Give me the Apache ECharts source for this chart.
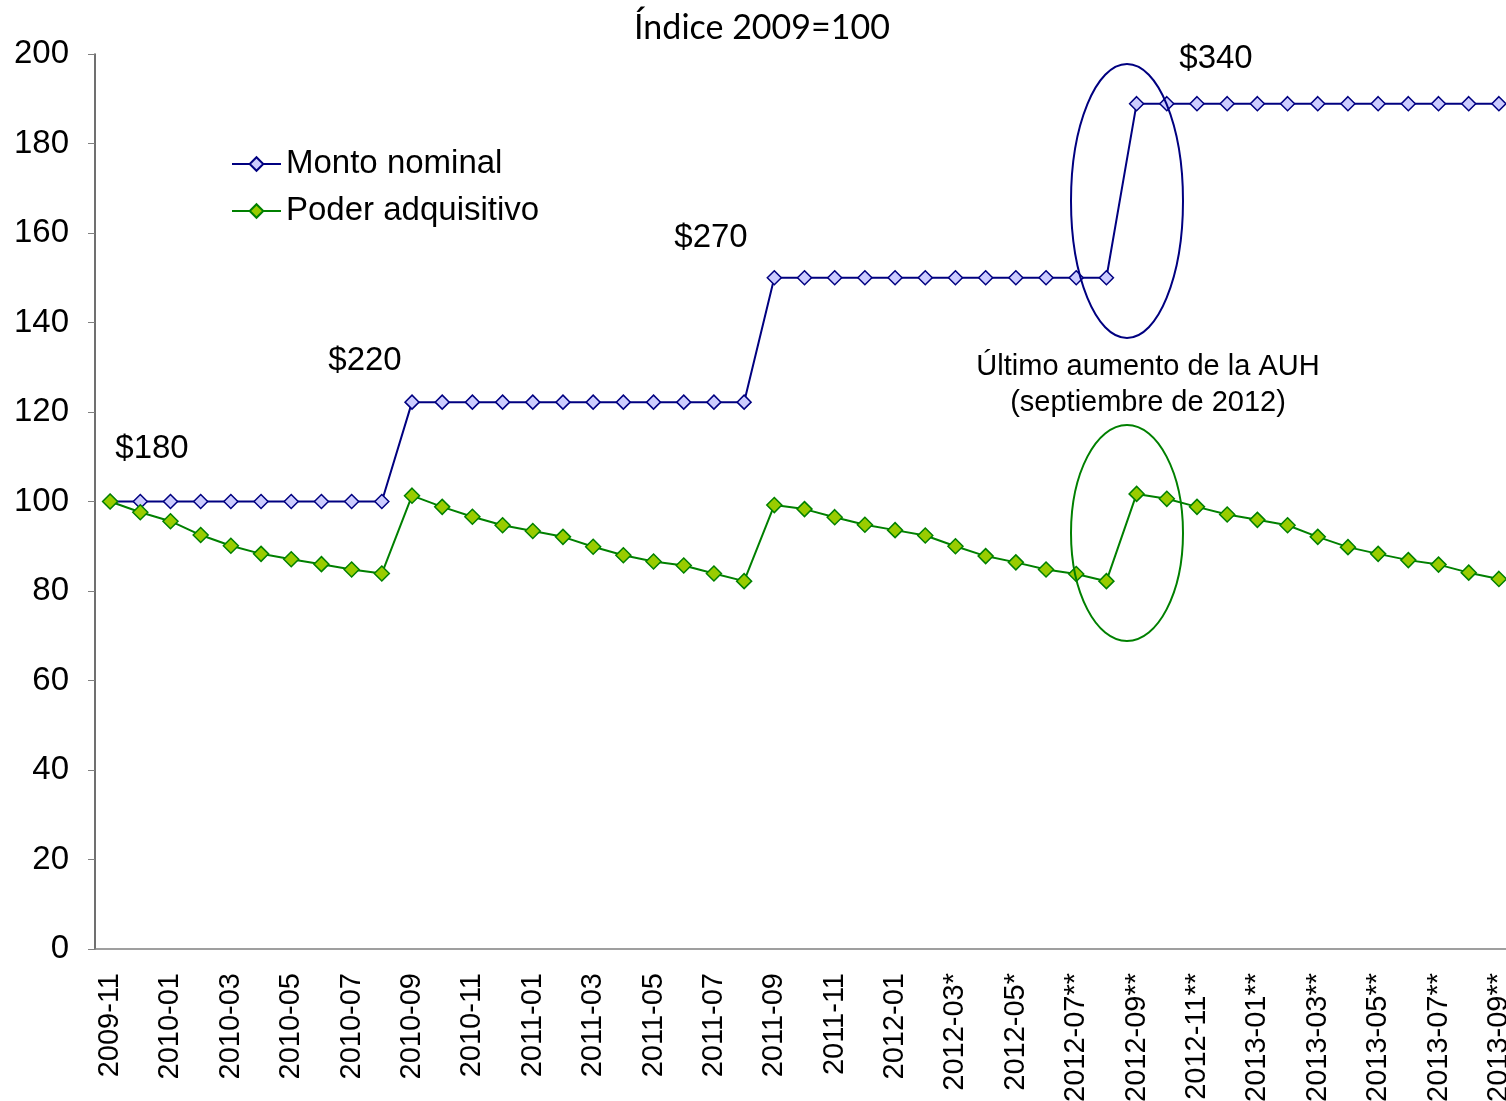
<!DOCTYPE html>
<html>
<head>
<meta charset="utf-8">
<script src="https://cdn.jsdelivr.net/npm/echarts@6/dist/echarts.min.js"></script>
<style>
  html, body { margin: 0; padding: 0; background: #fff; }
  #chart { width: 1506px; height: 1101px; }
</style>
</head>
<body>
<div id="chart"></div>
<script>
// meses (las etiquetas con * y ** vienen así en el original)
const months = [
  "2009-11", "2009-12",
  "2010-01", "2010-02", "2010-03", "2010-04", "2010-05", "2010-06",
  "2010-07", "2010-08", "2010-09", "2010-10", "2010-11", "2010-12",
  "2011-01", "2011-02", "2011-03", "2011-04", "2011-05", "2011-06",
  "2011-07", "2011-08", "2011-09", "2011-10", "2011-11", "2011-12",
  "2012-01", "2012-02", "2012-03*", "2012-04*", "2012-05*", "2012-06*",
  "2012-07**", "2012-08**", "2012-09**", "2012-10**", "2012-11**", "2012-12**",
  "2013-01**", "2013-02**", "2013-03**", "2013-04**", "2013-05**", "2013-06**",
  "2013-07**", "2013-08**", "2013-09**"
];

// Monto nominal (índice 2009=100): $180 -> $220 -> $270 -> $340
const montoNominal = [
  100, 100, 100, 100, 100, 100, 100, 100, 100, 100,
  122.2, 122.2, 122.2, 122.2, 122.2, 122.2, 122.2, 122.2, 122.2, 122.2, 122.2, 122.2,
  150, 150, 150, 150, 150, 150, 150, 150, 150, 150, 150, 150,
  188.9, 188.9, 188.9, 188.9, 188.9, 188.9, 188.9, 188.9, 188.9, 188.9, 188.9, 188.9, 188.9
];

// Poder adquisitivo
const poderAdquisitivo = [
  100, 97.6, 95.6, 92.5, 90.1, 88.3, 87.1, 86.0, 84.8, 83.9,
  101.3, 98.8, 96.6, 94.7, 93.4, 92.1, 89.9, 88.0, 86.6, 85.7, 83.9, 82.2,
  99.2, 98.3, 96.5, 94.8, 93.6, 92.4, 90.0, 87.8, 86.4, 84.8, 83.8, 82.2,
  101.7, 100.6, 98.8, 97.1, 95.9, 94.7, 92.1, 89.8, 88.3, 86.9, 85.9, 84.1, 82.7
];

const yTicks = [0, 20, 40, 60, 80, 100, 120, 140, 160, 180, 200];

const fontArial = "Liberation Sans, Arial, sans-serif";

var myChart = echarts.init(document.getElementById("chart"));

var option = {
  animation: false,
  backgroundColor: "#fff",
  grid: {
    left: 95,
    width: 1419,
    top: 54,
    bottom: 152,
    containLabel: false,
    outerBoundsMode: "none",
  },
  legend: {
    orient: "vertical",
    left: 226,
    top: 142,
    itemWidth: 49,
    itemHeight: 17,
    itemGap: 13,
    textStyle: {
      fontFamily: fontArial,
      fontSize: 33,
      color: "#000",
      lineHeight: 34,
    },
    data: ["Monto nominal", "Poder adquisitivo"],
  },
  xAxis: {
    type: "category",
    data: months,
    boundaryGap: true,
    axisLine: { lineStyle: { color: "#808080", width: 1.5 } },
    axisTick: { interval: 0, length: 7, lineStyle: { color: "#808080" } },
    axisLabel: {
      interval: 1,
      rotate: 90,
      margin: 24,
      fontFamily: fontArial,
      fontSize: 29,
      color: "#000",
    },
    splitLine: { show: false },
  },
  yAxis: {
    type: "value",
    min: yTicks[0],
    max: yTicks[yTicks.length - 1],
    interval: 20,
    axisLine: { show: true, lineStyle: { color: "#404040", width: 1.5 } },
    axisTick: { show: true, length: 7, lineStyle: { color: "#808080" } },
    axisLabel: {
      margin: 26,
      fontFamily: fontArial,
      fontSize: 33,
      color: "#000",
    },
    splitLine: { show: false },
  },
  series: [
    {
      name: "Monto nominal",
      type: "line",
      data: montoNominal,
      symbol: "diamond",
      symbolSize: 14,
      lineStyle: { color: "#000080", width: 2 },
      itemStyle: { color: "#ccccff", borderColor: "#000080", borderWidth: 1.5 },
      z: 3,
    },
    {
      name: "Poder adquisitivo",
      type: "line",
      data: poderAdquisitivo,
      symbol: "diamond",
      symbolSize: 15,
      lineStyle: { color: "#008000", width: 2 },
      itemStyle: { color: "#99cc00", borderColor: "#008000", borderWidth: 1.5 },
      z: 4,
    },
  ],
  // anotaciones del gráfico original
  graphic: [
    {
      type: "text",
      x: 762, y: 28,
      style: {
        text: "Índice 2009=100",
        font: "34px Lato, 'Open Sans', sans-serif",
        fill: "#000",
        textAlign: "center",
        textVerticalAlign: "middle",
      },
    },
    { type: "text", x: 152, y: 449, style: { text: "$180", font: "33px " + fontArial, fill: "#000", textAlign: "center", textVerticalAlign: "middle" } },
    { type: "text", x: 365, y: 361, style: { text: "$220", font: "33px " + fontArial, fill: "#000", textAlign: "center", textVerticalAlign: "middle" } },
    { type: "text", x: 711, y: 238, style: { text: "$270", font: "33px " + fontArial, fill: "#000", textAlign: "center", textVerticalAlign: "middle" } },
    { type: "text", x: 1216, y: 59, style: { text: "$340", font: "33px " + fontArial, fill: "#000", textAlign: "center", textVerticalAlign: "middle" } },
    {
      type: "text", x: 1148, y: 385,
      style: {
        text: "Último aumento de la AUH\n(septiembre de 2012)",
        font: "29px " + fontArial,
        lineHeight: 36,
        fill: "#000",
        textAlign: "center",
        textVerticalAlign: "middle",
      },
    },
    {
      type: "ellipse",
      shape: { cx: 1127, cy: 201, rx: 56, ry: 137 },
      style: { fill: "none", stroke: "#000080", lineWidth: 2 },
      z: 10,
    },
    {
      type: "ellipse",
      shape: { cx: 1127, cy: 533, rx: 56, ry: 108 },
      style: { fill: "none", stroke: "#008000", lineWidth: 2 },
      z: 10,
    },
  ],
};

myChart.setOption(option);
</script>
</body>
</html>
